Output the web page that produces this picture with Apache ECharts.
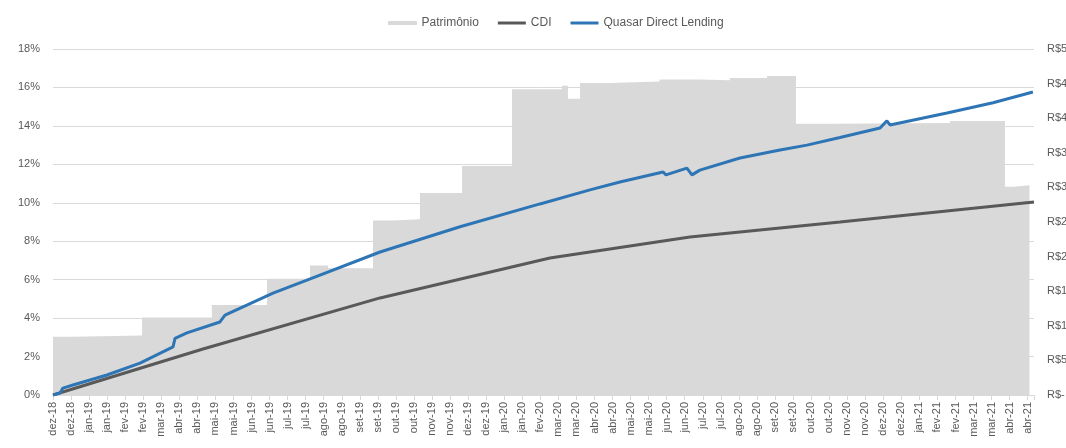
<!DOCTYPE html>
<html lang="pt">
<head>
    <meta charset="utf-8">
    <title>Quasar Direct Lending x CDI</title>
    <script src="https://cdn.jsdelivr.net/npm/echarts@6.0.0/dist/echarts.min.js"></script>
    <style>
        html, body { margin: 0; padding: 0; background: #fff; }
        #chart { width: 1066px; height: 448px; }
    </style>
</head>
<body>
    <div id="chart"></div>
    <script>
        // x positions are in label slots (0 = first "dez-18", 54 = last "abr-21")
        const xLabels = ['dez-18', 'dez-18', 'jan-19', 'jan-19', 'fev-19', 'fev-19', 'mar-19', 'abr-19', 'abr-19',
            'mai-19', 'mai-19', 'jun-19', 'jun-19', 'jul-19', 'jul-19', 'ago-19', 'ago-19', 'set-19', 'set-19',
            'out-19', 'out-19', 'nov-19', 'nov-19', 'dez-19', 'dez-19', 'jan-20', 'jan-20', 'fev-20', 'mar-20',
            'mar-20', 'abr-20', 'abr-20', 'mai-20', 'mai-20', 'jun-20', 'jun-20', 'jul-20', 'jul-20', 'ago-20',
            'ago-20', 'set-20', 'set-20', 'out-20', 'out-20', 'nov-20', 'nov-20', 'dez-20', 'dez-20', 'jan-21',
            'fev-21', 'fev-21', 'mar-21', 'mar-21', 'abr-21', 'abr-21'];
        const rightLabels = ['R$-', 'R$50', 'R$100', 'R$150', 'R$200', 'R$250', 'R$300', 'R$350', 'R$400', 'R$450', 'R$500'];

        // Patrimônio (R$ mi), step changes
        const patX = [0, 1.1, 4.93, 8.8, 11.86, 14.24, 15.24, 17.73, 18.78, 20.33, 22.66, 25.43, 28.2, 28.53, 29.2,
            30.86, 33.6, 35.8, 37.5, 39.56, 41.16, 43.4, 49.7, 52.74, 53.2, 54.1];
        const patY = [84, 86, 112, 130, 168, 187, 183, 252, 254, 292, 331, 442, 447, 428, 451,
            453, 456, 455, 458, 461, 392, 393, 396, 301, 303, 303];

        // CDI acumulado (%)
        const cdiX = [0, 8.31, 18.12, 27.53, 35.29, 43.6, 54.35];
        const cdiY = [0, 2.39, 5.05, 7.13, 8.22, 9.0, 10.04];

        // Quasar Direct Lending acumulado (%)
        const qdlX = [0, 0.39, 0.55, 1.11, 2.99, 4.82, 6.65, 6.76, 7.42, 9.25, 9.53, 12.19, 14.07, 18.12, 22.55,
            26.98, 29.75, 31.41, 33.8, 33.96, 35.12, 35.4, 35.84, 38.06, 40.28, 41.77, 43.6, 45.82, 46.2, 46.37,
            49.53, 52.08, 54.29];
        const qdlY = [0, 0.1, 0.36, 0.52, 1.04, 1.66, 2.5, 2.95, 3.23, 3.8, 4.16, 5.3, 5.98, 7.44, 8.75,
            9.94, 10.67, 11.08, 11.6, 11.45, 11.8, 11.45, 11.7, 12.33, 12.75, 13.0, 13.4, 13.89, 14.26, 14.05,
            14.67, 15.2, 15.76];

        const zip = (xs, ys) => xs.map((x, i) => [x, ys[i]]);

        const labelColor = '#595959';
        const gridColor = '#d9d9d9';
        const font = 'Liberation Sans';

        const chart = echarts.init(document.getElementById('chart'));
        chart.setOption({
            animation: false,
            textStyle: { fontFamily: font },
            legend: {
                top: 12,
                left: 383,
                itemWidth: 28,
                itemHeight: 3,
                itemGap: 19,
                textStyle: { color: labelColor, fontSize: 12, fontFamily: font },
                data: [
                    { name: 'Patrimônio', icon: 'rect', itemStyle: { color: gridColor, borderColor: gridColor, borderWidth: 1 } },
                    { name: 'CDI', icon: 'rect' },
                    { name: 'Quasar Direct Lending', icon: 'rect' }
                ]
            },
            grid: { left: 53, right: 32, top: 49, bottom: 53, containLabel: false, outerBoundsMode: 'none' },
            xAxis: {
                type: 'value',
                min: 0,
                max: 54.35,
                interval: 1,
                axisLine: { show: true, lineStyle: { color: gridColor } },
                axisTick: { show: true, length: 5, lineStyle: { color: gridColor } },
                splitLine: { show: false },
                axisLabel: {
                    rotate: 90,
                    margin: 7,
                    color: labelColor,
                    fontSize: 11,
                    fontFamily: font,
                    formatter: function (v) {
                        const i = Math.round(v);
                        return Math.abs(v - i) < 1e-6 && xLabels[i] ? xLabels[i] : '';
                    }
                }
            },
            yAxis: [
                {
                    type: 'value',
                    min: 0,
                    max: 18,
                    interval: 2,
                    axisLine: { show: false },
                    axisTick: { show: false },
                    splitLine: { lineStyle: { color: gridColor } },
                    axisLabel: { color: labelColor, fontSize: 11, fontFamily: font, margin: 13, formatter: '{value}%' }
                },
                {
                    type: 'value',
                    min: 0,
                    max: 500,
                    interval: 50,
                    axisLine: { show: false },
                    axisTick: { show: false },
                    splitLine: { show: false },
                    axisLabel: {
                        color: labelColor, fontSize: 11, fontFamily: font, margin: 13,
                        formatter: v => rightLabels[Math.round(v / 50)]
                    }
                }
            ],
            series: [
                {
                    name: 'Patrimônio',
                    type: 'line',
                    yAxisIndex: 1,
                    step: 'end',
                    symbol: 'none',
                    color: gridColor,
                    lineStyle: { width: 0 },
                    areaStyle: { color: gridColor, opacity: 1 },
                    data: zip(patX, patY)
                },
                {
                    name: 'CDI',
                    type: 'line',
                    symbol: 'none',
                    color: '#595959',
                    lineStyle: { width: 3, color: '#595959' },
                    data: zip(cdiX, cdiY)
                },
                {
                    name: 'Quasar Direct Lending',
                    type: 'line',
                    symbol: 'none',
                    color: '#2e75b6',
                    lineStyle: { width: 3, color: '#2e75b6' },
                    data: zip(qdlX, qdlY)
                }
            ]
        });
    </script>
</body>
</html>
